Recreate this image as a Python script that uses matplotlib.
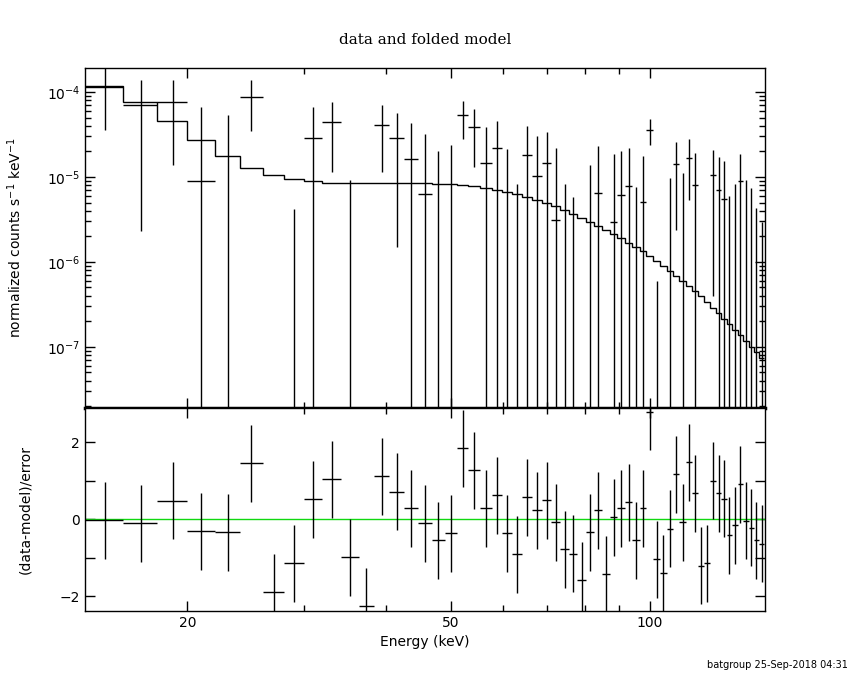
#  BAT spectrum: data and folded model with residuals
import matplotlib
matplotlib.use("Agg")
import matplotlib.pyplot as plt
from matplotlib.ticker import FixedLocator, NullFormatter, FixedFormatter
import numpy as np

# energy bin edges (keV)
edges = [14, 16, 18, 20, 22, 24, 26, 28, 30, 32,
         34.2, 36.3, 38.3, 40.4, 42.5, 44.6, 46.8, 49.0, 51.1, 53.2,
         55.4, 57.7, 59.9, 62.0, 64.2, 66.3, 68.7, 71.0, 73.3, 75.5,
         77.8, 80.1, 82.4, 84.7, 87.1, 89.4, 91.7, 94.2, 96.6, 98.9,
         101.3, 103.8, 106.1, 108.4, 110.9, 113.5, 115.9, 118.4, 120.8, 123.3,
         126.0, 128.4, 130.8, 133.4, 135.9, 138.6, 141.2, 143.8, 146.4, 149.2]

# folded model (counts s^-1 keV^-1)
model = [1.18e-4, 7.63e-5, 4.52e-5, 2.72e-5, 1.78e-5, 1.29e-5, 1.05e-5, 9.4e-6, 8.9e-6, 8.6e-6,
         8.55e-6, 8.55e-6, 8.5e-6, 8.5e-6, 8.5e-6, 8.45e-6, 8.35e-6, 8.2e-6, 8.05e-6, 7.84e-6,
         7.5e-6, 7.1e-6, 6.67e-6, 6.26e-6, 5.87e-6, 5.41e-6, 4.99e-6, 4.52e-6, 4.09e-6, 3.71e-6,
         3.33e-6, 2.96e-6, 2.63e-6, 2.36e-6, 2.12e-6, 1.92e-6, 1.69e-6, 1.50e-6, 1.33e-6, 1.16e-6,
         1.02e-6, 8.9e-7, 7.77e-7, 6.78e-7, 5.92e-7, 5.17e-7, 4.48e-7, 3.91e-7, 3.35e-7, 2.90e-7,
         2.49e-7, 2.15e-7, 1.85e-7, 1.58e-7, 1.37e-7, 1.17e-7, 1.0e-7, 8.58e-8, 7.3e-8]

# measured rate and its 1-sigma error
rate = [1.16e-4, 7.03e-5, 7.6e-5, 8.9e-6, -6e-7, 8.66e-5, -7.5e-5, -3.32e-5, 2.88e-5, 4.39e-5,
        -2.18e-5, -5.93e-5, 4.06e-5, 2.88e-5, 1.62e-5, 6.25e-6, -6.1e-6, -6e-7, 5.31e-5, 3.84e-5,
        1.45e-5, 2.19e-5, -1.5e-6, -1.41e-5, 1.80e-5, 1.03e-5, 1.45e-5, 3.12e-6, -1.07e-5, -1.34e-5,
        -2.43e-5, -2.6e-6, 6.43e-6, -2.05e-5, 2.96e-6, 6.14e-6, 7.84e-6, -5.98e-6, 5.08e-6, 3.57e-5,
        -1.04e-5, -1.45e-5, -2.2e-6, 1.41e-5, -3.2e-7, 1.68e-5, 8.05e-6, -1.22e-5, -1.1e-5, 1.06e-5,
        7.03e-6, 5.51e-6, -3.8e-6, -1.29e-6, 8.97e-6, -2.6e-7, -1.97e-6, -4.92e-6, -5.05e-6]

rate_err = [8.0e-5, 6.8e-5, 6.2e-5, 5.77e-5, 5.42e-5, 5.2e-5, 4.5e-5, 3.74e-5, 3.78e-5, 3.24e-5,
            3.1e-5, 3.0e-5, 2.91e-5, 2.73e-5, 2.7e-5, 2.58e-5, 2.63e-5, 2.44e-5, 2.53e-5, 2.53e-5,
            2.42e-5, 2.37e-5, 2.29e-5, 2.24e-5, 2.18e-5, 2.01e-5, 1.93e-5, 1.88e-5, 1.9e-5, 1.92e-5,
            1.75e-5, 1.64e-5, 1.68e-5, 1.6e-5, 1.55e-5, 1.41e-5, 1.43e-5, 1.36e-5, 1.27e-5, 1.2e-5,
            1.1e-5, 1.1e-5, 1.19e-5, 1.17e-5, 1.14e-5, 1.15e-5, 1.11e-5, 1.05e-5, 1.0e-5, 1.02e-5,
            1.03e-5, 9.9e-6, 9.8e-6, 9.65e-6, 9.7e-6, 9.48e-6, 9.4e-6, 9.27e-6, 8.0e-6]

# (data-model)/error
resid = [-0.03, -0.10, 0.48, -0.31, -0.34, 1.46, -1.90, -1.14, 0.52, 1.04,
         -0.98, -2.26, 1.12, 0.71, 0.29, -0.10, -0.55, -0.36, 1.84, 1.27,
         0.29, 0.62, -0.36, -0.91, 0.57, 0.24, 0.50, -0.08, -0.78, -0.89,
         -1.58, -0.34, 0.24, -1.43, 0.05, 0.29, 0.44, -0.55, 0.29, 2.79,
         -1.04, -1.40, -0.25, 1.17, -0.08, 1.48, 0.68, -1.20, -1.14, 1.00,
         0.68, 0.53, -0.41, -0.15, 0.91, -0.04, -0.22, -0.54, -0.64]

xticks_major = [20, 50, 100]
xticks_minor = [30, 40, 60, 70, 80, 90]

edges = np.array(edges)
lo, hi = edges[:-1], edges[1:]
centre = 0.5 * (lo + hi)
rate = np.array(rate)
rate_err = np.array(rate_err)
resid = np.array(resid)

fig = plt.figure(figsize=(8.5, 6.8), dpi=100)
ax1 = fig.add_axes([0.1, 0.4, 0.8, 0.5])
ax2 = fig.add_axes([0.1, 0.1015, 0.8, 0.2985], sharex=ax1)

lw = 1.0
# top panel
ax1.set_xscale("log")
ax1.set_yscale("log", nonpositive="clip")
ax1.stairs(model, edges, baseline=None, color="k", lw=lw)
pos = rate > 0
ax1.hlines(rate[pos], lo[pos], hi[pos], color="k", lw=lw)
upper = rate + rate_err
lower = np.where(rate - rate_err > 0, rate - rate_err, 1e-12)
vis = upper > 0
ax1.vlines(centre[vis], lower[vis], upper[vis], color="k", lw=lw)
ax1.set_xlim(14, 149.5)
ax1.set_ylim(1.9e-8, 1.92e-4)
ax1.set_ylabel(r"normalized counts s$^{-1}$ keV$^{-1}$", fontsize=10, labelpad=16)
ax1.spines["bottom"].set_linewidth(2.5)

# bottom panel
ax2.axhline(0, color="#10d810", lw=1)
ax2.hlines(resid, lo, hi, color="k", lw=lw)
ax2.vlines(centre, resid - 1, resid + 1, color="k", lw=lw)
ax2.set_ylim(-2.38, 2.89)
ax2.set_yticks([-2, -1, 0, 1, 2])
ax2.set_yticklabels(["\u22122", "", "0", "", "2"])
ax2.set_ylabel("(data-model)/error", fontsize=10, labelpad=20)
ax2.set_xlabel("Energy (keV)", fontsize=10)

for ax in (ax1, ax2):
    ax.xaxis.set_major_locator(FixedLocator(xticks_major))
    ax.xaxis.set_minor_locator(FixedLocator(xticks_minor))
    ax.xaxis.set_minor_formatter(NullFormatter())
    ax.tick_params(which="both", direction="in", top=True, right=True,
                   labelsize=10, width=1)
    ax.tick_params(which="major", length=7)
    ax.tick_params(which="minor", length=4)
    for s in ax.spines.values():
        if s is not ax1.spines["bottom"]:
            s.set_linewidth(1)

ax1.tick_params(labelbottom=False)
ax2.xaxis.set_major_formatter(FixedFormatter([str(v) for v in xticks_major]))

fig.text(0.5, 0.941, "data and folded model", ha="center", va="center",
         fontsize=11, family="DejaVu Serif")
fig.text(0.997, 0.015, "batgroup 25-Sep-2018 04:31", ha="right", va="bottom",
         fontsize=7)

fig.savefig("out.png", dpi=100)
